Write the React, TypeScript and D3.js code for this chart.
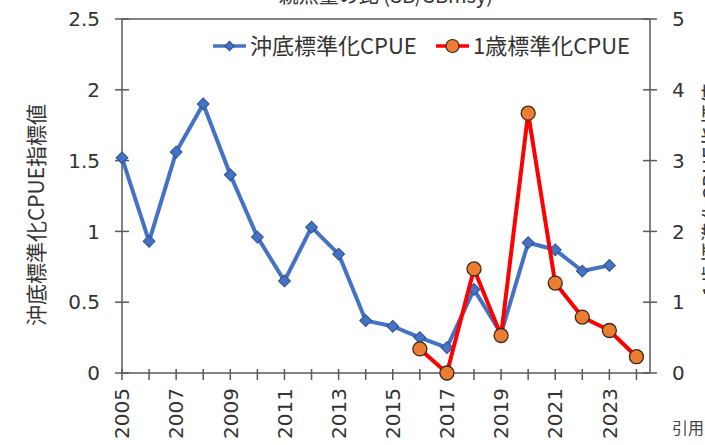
import React from "react";
import * as d3 from "d3";

const years = [2005, 2006, 2007, 2008, 2009, 2010, 2011, 2012, 2013, 2014, 2015, 2016, 2017, 2018, 2019, 2020, 2021, 2022, 2023, 2024];
const offshoreCPUE: (number | null)[] = [1.52, 0.93, 1.56, 1.90, 1.40, 0.96, 0.65, 1.03, 0.84, 0.37, 0.33, 0.25, 0.18, 0.59, 0.28, 0.92, 0.87, 0.72, 0.76, null];
const age1CPUE: (number | null)[] = [null, null, null, null, null, null, null, null, null, null, null, 0.34, 0.0, 1.47, 0.53, 3.67, 1.27, 0.79, 0.60, 0.23];
const leftTicks = [0, 0.5, 1, 1.5, 2, 2.5];
const rightTicks = [0, 1, 2, 3, 4, 5];
const xLabelYears = [2005, 2007, 2009, 2011, 2013, 2015, 2017, 2019, 2021, 2023];
const seriesNames = ["沖底標準化CPUE", "1歳標準化CPUE"];
const titleText = "親魚量の比 (SB/SBmsy)";
const leftAxisTitle = "沖底標準化CPUE指標値";
const rightAxisTitle = "1歳標準化CPUE指標値";
const footnote = "引用";

const W = 705, H = 445;
const L = 122, R = 650, T = 19, B = 373;
const FONT = "'DejaVu Sans', Verdana, sans-serif";
const JFONT = "'Noto Sans CJK JP', 'Noto Sans', sans-serif";
const AX = "#595959";
const BLUE = "#4472C4";
const BLUE_DARK = "#2F4F8F";
const RED = "#FF0000";
const ORANGE = "#ED7D31";

export default function App() {
  const x = d3.scaleLinear().domain([2005, 2024.5]).range([L, R]);
  const yL = d3.scaleLinear().domain([0, 2.5]).range([B, T]);
  const yR = d3.scaleLinear().domain([0, 5]).range([B, T]);

  const blueData = years.map((yr, i) => ({ yr, v: offshoreCPUE[i] })).filter(d => d.v !== null) as { yr: number; v: number }[];
  const orangeData = years.map((yr, i) => ({ yr, v: age1CPUE[i] })).filter(d => d.v !== null) as { yr: number; v: number }[];

  const blueLine = d3.line<{ yr: number; v: number }>().x(d => x(d.yr)).y(d => yL(d.v))(blueData) || "";
  const redLine = d3.line<{ yr: number; v: number }>().x(d => x(d.yr)).y(d => yR(d.v))(orangeData) || "";
  const diamond = d3.symbol(d3.symbolSquare, 70)() || "";

  const legY = 46;
  return (
    <svg width={W} height={H} style={{ position: "absolute", left: 0, top: 0, background: "#fff" }}>
      <rect x={0} y={0} width={W} height={H} fill="#fff" />
      <text x={386} y={3} textAnchor="middle" fontFamily={JFONT} fontSize={20} fill="#333">{titleText}</text>

      {/* plot frame */}
      <line x1={L} x2={R} y1={T} y2={T} stroke={AX} strokeWidth={1.5} />
      <line x1={R} x2={R} y1={T} y2={B} stroke={AX} strokeWidth={1.5} />
      <line x1={L} x2={L} y1={T} y2={B} stroke={AX} strokeWidth={1.5} />
      <line x1={L} x2={R} y1={B} y2={B} stroke={AX} strokeWidth={1.5} />

      {/* left ticks */}
      {leftTicks.map(t => (
        <g key={"l" + t}>
          <line x1={L - 7} x2={L + 7} y1={yL(t)} y2={yL(t)} stroke={AX} strokeWidth={1.5} />
          <text x={L - 22} y={yL(t)} dy="0.36em" textAnchor="end" fontFamily={FONT} fontSize={20} fill="#333">{t}</text>
        </g>
      ))}
      {/* right ticks */}
      {rightTicks.map(t => (
        <g key={"r" + t}>
          <line x1={R - 7} x2={R + 7} y1={yR(t)} y2={yR(t)} stroke={AX} strokeWidth={1.5} />
          <text x={R + 22} y={yR(t)} dy="0.36em" textAnchor="start" fontFamily={FONT} fontSize={20} fill="#333">{t}</text>
        </g>
      ))}
      {/* x ticks */}
      {years.map(yr => (
        <line key={"x" + yr} x1={x(yr)} x2={x(yr)} y1={B - 4} y2={B + 7} stroke={AX} strokeWidth={1.5} />
      ))}
      {xLabelYears.map(yr => (
        <text key={"xl" + yr} transform={`translate(${x(yr)},${B + 15}) rotate(-90)`} dy="0.36em" textAnchor="end" fontFamily={FONT} fontSize={20} fill="#333">{yr}</text>
      ))}

      {/* axis titles */}
      <text transform={`translate(44,215) rotate(-90)`} textAnchor="middle" fontFamily={JFONT} fontSize={21} fill="#333">{leftAxisTitle}</text>
      <text transform={`translate(719,190) rotate(-90)`} textAnchor="middle" fontFamily={JFONT} fontSize={21} fill="#333">{rightAxisTitle}</text>
      <text x={672} y={434} fontFamily={JFONT} fontSize={16} fill="#444">{footnote}</text>

      {/* series */}
      <path d={blueLine} fill="none" stroke={BLUE} strokeWidth={4} strokeLinejoin="round" />
      {blueData.map(d => (
        <path key={"b" + d.yr} d={diamond} transform={`translate(${x(d.yr)},${yL(d.v)}) rotate(45)`} fill={BLUE} stroke={BLUE_DARK} strokeWidth={1} />
      ))}
      <path d={redLine} fill="none" stroke={RED} strokeWidth={4} strokeLinejoin="round" />
      {orangeData.map(d => (
        <circle key={"o" + d.yr} cx={x(d.yr)} cy={yR(d.v)} r={7} fill={ORANGE} stroke="#3a2a1a" strokeWidth={1.3} />
      ))}

      {/* legend */}
      <line x1={213} x2={246} y1={legY} y2={legY} stroke={BLUE} strokeWidth={3.5} />
      <path d={d3.symbol(d3.symbolSquare, 44)() || ""} transform={`translate(229.5,${legY}) rotate(45)`} fill={BLUE} stroke={BLUE_DARK} strokeWidth={1} />
      <text x={250} y={legY} dy="0.36em" fontFamily={JFONT} fontSize={22} fill="#333">{seriesNames[0]}</text>
      <line x1={436} x2={469} y1={legY} y2={legY} stroke={RED} strokeWidth={3.5} />
      <circle cx={452.5} cy={legY} r={6.5} fill={ORANGE} stroke="#3a2a1a" strokeWidth={1.2} />
      <text x={473} y={legY} dy="0.36em" fontFamily={JFONT} fontSize={22} fill="#333">{seriesNames[1]}</text>
    </svg>
  );
}
